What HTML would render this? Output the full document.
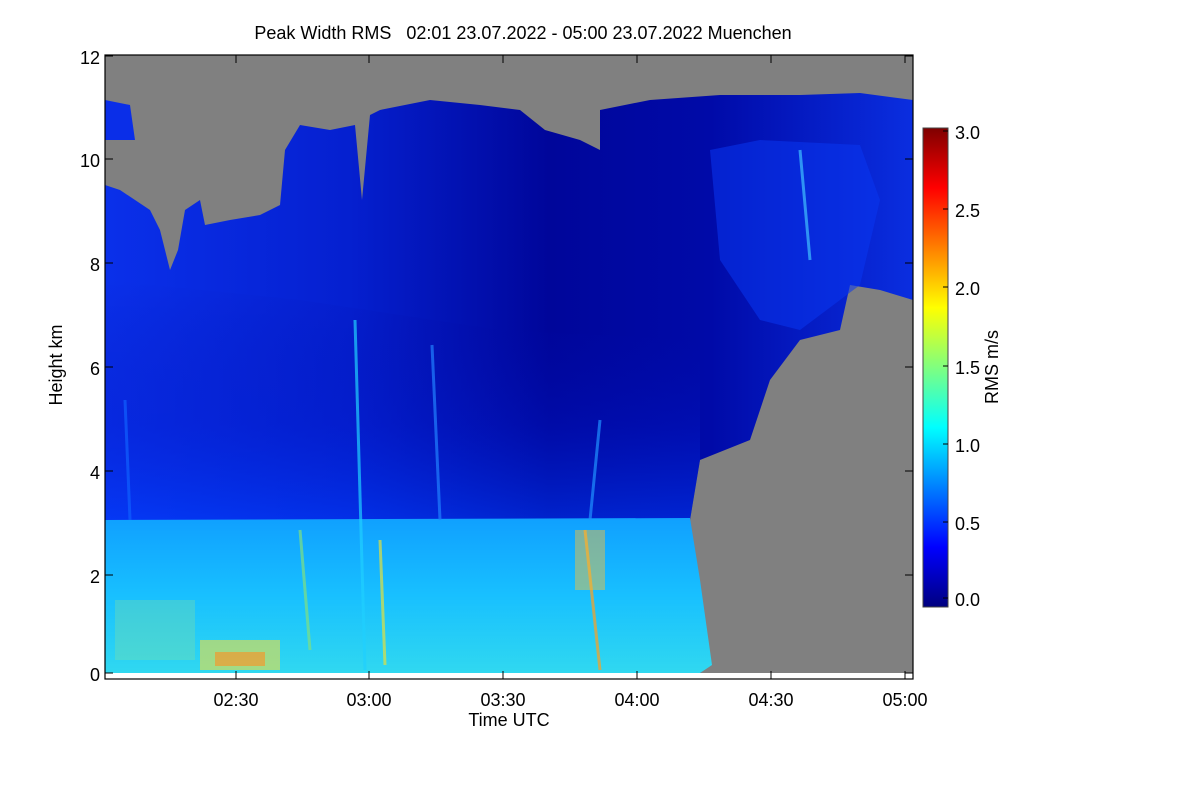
<!DOCTYPE html>
<html><head><meta charset="utf-8"><style>
body{margin:0;background:#fff;width:1200px;height:800px;overflow:hidden;font-family:"Liberation Sans",Arial,sans-serif}
</style></head><body>
<svg width="1200" height="800" xmlns="http://www.w3.org/2000/svg" font-family="Liberation Sans, Arial, sans-serif">
<defs>
<linearGradient id="up" x1="0" y1="0" x2="1" y2="0">
<stop offset="0" stop-color="#0a30ea"/><stop offset="0.3" stop-color="#0520d0"/><stop offset="0.55" stop-color="#00069a"/><stop offset="0.75" stop-color="#000aa8"/><stop offset="1" stop-color="#0a2ee0"/></linearGradient>
<linearGradient id="vert" x1="0" y1="0" x2="0" y2="1">
<stop offset="0" stop-color="#000090" stop-opacity="0"/><stop offset="0.6" stop-color="#0018c8" stop-opacity="0.3"/><stop offset="1" stop-color="#0040ff" stop-opacity="0.5"/></linearGradient>
<linearGradient id="low" x1="0" y1="0" x2="0" y2="1">
<stop offset="0" stop-color="#10a0ff"/><stop offset="0.5" stop-color="#18c0ff"/><stop offset="1" stop-color="#30d8f0"/></linearGradient>
<linearGradient id="cb" x1="0" y1="1" x2="0" y2="0">
<stop offset="0" stop-color="#00007f"/><stop offset="0.125" stop-color="#0000ff"/><stop offset="0.375" stop-color="#00ffff"/><stop offset="0.625" stop-color="#ffff00"/><stop offset="0.875" stop-color="#ff0000"/><stop offset="1" stop-color="#7f0000"/></linearGradient>
</defs>
<text x="523" y="39" font-size="18" text-anchor="middle" xml:space="preserve">Peak Width RMS   02:01 23.07.2022 - 05:00 23.07.2022 Muenchen</text>
<rect x="105" y="55" width="808" height="624" fill="#808080"/>
<polygon fill="url(#up)" points="105,185 120,190 150,210 160,230 170,270 178,250 185,210 200,200 205,225 230,220 260,215 280,205 285,150 300,125 330,130 355,125 362,200 370,115 380,110 430,100 480,105 520,110 545,130 580,140 600,150 600,110 650,100 720,95 800,95 860,93 913,100 913,300 880,290 850,285 840,330 800,340 770,380 750,440 700,460 690,520 710,665 700,673 105,673"/>
<polygon fill="url(#vert)" points="105,280 300,300 500,330 700,340 700,460 690,520 105,520"/>
<polygon fill="#0a2ee8" points="105,100 130,105 135,140 105,140"/>
<polygon fill="#0a36f0" opacity="0.55" points="710,150 760,140 860,145 880,200 860,285 840,300 800,330 760,320 720,260"/>
<polygon fill="url(#low)" points="105,520 690,518 700,580 712,665 700,673 105,673"/>
<g stroke-width="3" opacity="0.7">
<line x1="355" y1="320" x2="365" y2="670" stroke="#20d0ff"/>
<line x1="432" y1="345" x2="440" y2="520" stroke="#2080ff"/>
<line x1="600" y1="420" x2="590" y2="520" stroke="#2090ff"/>
<line x1="800" y1="150" x2="810" y2="260" stroke="#40c0ff"/>
<line x1="125" y1="400" x2="130" y2="520" stroke="#1060ff"/>
<line x1="585" y1="530" x2="600" y2="670" stroke="#ffa020"/>
<line x1="300" y1="530" x2="310" y2="650" stroke="#80e080"/>
<line x1="380" y1="540" x2="385" y2="665" stroke="#e0e040"/>
</g>
<rect x="200" y="640" width="80" height="30" fill="#f0e040" opacity="0.6"/>
<rect x="215" y="652" width="50" height="14" fill="#ff9020" opacity="0.6"/>
<rect x="115" y="600" width="80" height="60" fill="#80e0a0" opacity="0.35"/>
<rect x="575" y="530" width="30" height="60" fill="#ffc030" opacity="0.45"/>
<rect x="105" y="673" width="808" height="6" fill="#fff"/>
<rect x="105" y="55" width="808" height="624" fill="none" stroke="#000" stroke-width="1.2"/>
<g stroke="#000" stroke-width="1">
<path d="M105,56h8M105,159h8M105,263h8M105,367h8M105,471h8M105,575h8M105,673h8M913,56h-8M913,159h-8M913,263h-8M913,367h-8M913,471h-8M913,575h-8M913,673h-8"/>
<path d="M236,679v-8M369,679v-8M503,679v-8M637,679v-8M771,679v-8M905,679v-8M236,55v8M369,55v8M503,55v8M637,55v8M771,55v8M905,55v8"/>
</g>
<g font-size="18" text-anchor="end">
<text x="100" y="64">12</text><text x="100" y="167">10</text><text x="100" y="271">8</text><text x="100" y="375">6</text><text x="100" y="479">4</text><text x="100" y="583">2</text><text x="100" y="681">0</text>
</g>
<g font-size="18" text-anchor="middle">
<text x="236" y="706">02:30</text><text x="369" y="706">03:00</text><text x="503" y="706">03:30</text><text x="637" y="706">04:00</text><text x="771" y="706">04:30</text><text x="905" y="706">05:00</text>
<text x="509" y="726">Time UTC</text>
</g>
<text transform="translate(62,365) rotate(-90)" font-size="18" text-anchor="middle">Height km</text>
<rect x="923" y="128" width="25" height="479" fill="url(#cb)" stroke="#444"/>
<g stroke="#000"><path d="M948,131h-5M948,209h-5M948,287h-5M948,366h-5M948,444h-5M948,522h-5M948,598h-5"/></g>
<g font-size="18">
<text x="955" y="139">3.0</text><text x="955" y="217">2.5</text><text x="955" y="295">2.0</text><text x="955" y="374">1.5</text><text x="955" y="452">1.0</text><text x="955" y="530">0.5</text><text x="955" y="606">0.0</text>
</g>
<text transform="translate(998,367) rotate(-90)" font-size="18" text-anchor="middle">RMS m/s</text>
</svg>
</body></html>
